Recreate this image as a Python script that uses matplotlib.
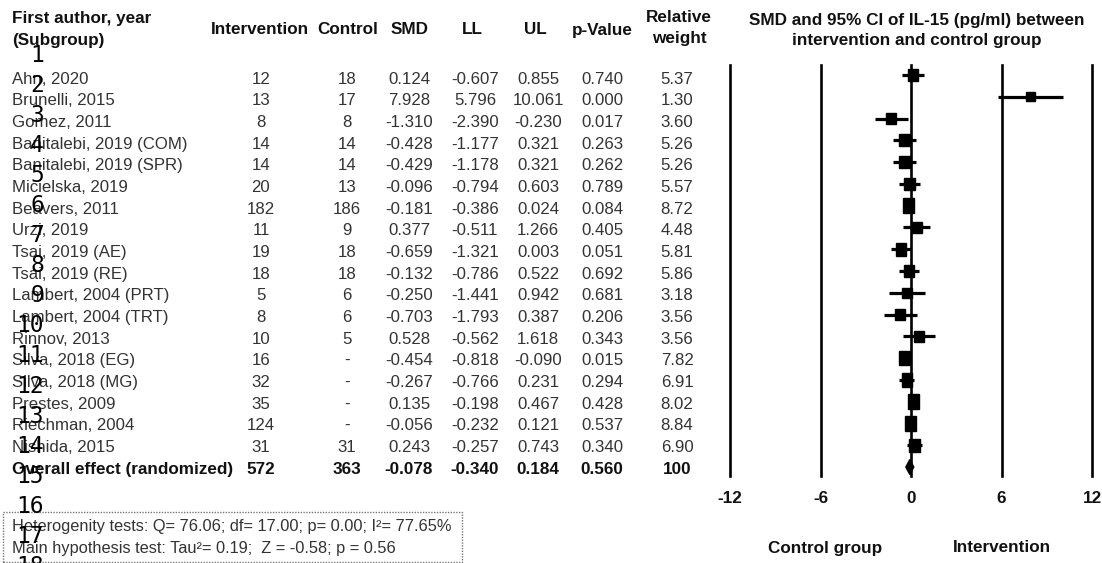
import matplotlib
matplotlib.use("Agg")
import matplotlib.pyplot as plt
from matplotlib.patches import Rectangle, Polygon

# ---------------- data ----------------
studies = ["Ahn, 2020", "Brunelli, 2015", "Gomez, 2011", "Banitalebi, 2019 (COM)",
           "Banitalebi, 2019 (SPR)", "Micielska, 2019", "Beavers, 2011", "Urzi, 2019",
           "Tsai, 2019 (AE)", "Tsai, 2019 (RE)", "Lambert, 2004 (PRT)", "Lambert, 2004 (TRT)",
           "Rinnov, 2013", "Silva, 2018 (EG)", "Silva, 2018 (MG)", "Prestes, 2009",
           "Riechman, 2004", "Nishida, 2015"]
n_intervention = ["12", "13", "8", "14", "14", "20", "182", "11", "19", "18", "5", "8",
                  "10", "16", "32", "35", "124", "31"]
n_control = ["18", "17", "8", "14", "14", "13", "186", "9", "18", "18", "6", "6",
             "5", "-", "-", "-", "-", "31"]
smd = [0.124, 7.928, -1.310, -0.428, -0.429, -0.096, -0.181, 0.377, -0.659, -0.132,
       -0.250, -0.703, 0.528, -0.454, -0.267, 0.135, -0.056, 0.243]
ll = [-0.607, 5.796, -2.390, -1.177, -1.178, -0.794, -0.386, -0.511, -1.321, -0.786,
      -1.441, -1.793, -0.562, -0.818, -0.766, -0.198, -0.232, -0.257]
ul = [0.855, 10.061, -0.230, 0.321, 0.321, 0.603, 0.024, 1.266, 0.003, 0.522,
      0.942, 0.387, 1.618, -0.090, 0.231, 0.467, 0.121, 0.743]
pval = [0.740, 0.000, 0.017, 0.263, 0.262, 0.789, 0.084, 0.405, 0.051, 0.692,
        0.681, 0.206, 0.343, 0.015, 0.294, 0.428, 0.537, 0.340]
weight = [5.37, 1.30, 3.60, 5.26, 5.26, 5.57, 8.72, 4.48, 5.81, 5.86,
          3.18, 3.56, 3.56, 7.82, 6.91, 8.02, 8.84, 6.90]

overall_label = "Overall effect (randomized)"
overall_n_int = "572"
overall_n_ctl = "363"
overall_smd, overall_ll, overall_ul, overall_p, overall_w = -0.078, -0.340, 0.184, 0.560, "100"

xticks = [-12, -6, 0, 6, 12]
het_text = "Heterogenity tests: Q= 76.06; df= 17.00; p= 0.00; I\u00b2= 77.65%"
main_text = "Main hypothesis test: Tau\u00b2= 0.19;  Z = -0.58; p = 0.56"

# ---------------- layout helpers ----------------
W, H = 1102, 563
fig = plt.figure(figsize=(W / 100, H / 100), dpi=100)
plt.rcParams['font.family'] = ['Liberation Sans', 'DejaVu Sans']

def fx(x):
    return x / W

def fy(y):
    return 1 - y / H

FS = 12.1
FSB = 12.35
TXT = '#333333'
BOLD = '#111111'

# headers
fig.text(fx(12), fy(18), "First author, year", fontsize=FSB, fontweight='bold', color=BOLD, va='center', ha='left')
fig.text(fx(12), fy(40), "(Subgroup)", fontsize=FSB, fontweight='bold', color=BOLD, va='center', ha='left')
col_x = [261, 347, 409, 475, 538, 602, 677]
hdr_x = [260, 348, 410, 472, 535, 602, 679]
for hx, lab in zip(hdr_x[:6], ["Intervention", "Control", "SMD", "LL", "UL", "p-Value"]):
    fig.text(fx(hx), fy(30), lab, fontsize=FSB, fontweight='bold', color=BOLD, va='center', ha='center')
fig.text(fx(hdr_x[6]), fy(18), "Relative", fontsize=FSB, fontweight='bold', color=BOLD, va='center', ha='center')
fig.text(fx(hdr_x[6]), fy(39), "weight", fontsize=FSB, fontweight='bold', color=BOLD, va='center', ha='center')
fig.text(fx(917), fy(20), "SMD and 95% CI of IL-15 (pg/ml) between", fontsize=FSB, fontweight='bold',
         color=BOLD, va='center', ha='center')
fig.text(fx(917), fy(40), "intervention and control group", fontsize=FSB, fontweight='bold',
         color=BOLD, va='center', ha='center')

# table rows
row0, dy = 79, 21.67
for i in range(len(studies)):
    y = fy(row0 + i * dy)
    fig.text(fx(12), y, studies[i], fontsize=FS, color=TXT, va='center', ha='left')
    vals = [n_intervention[i], n_control[i], f"{smd[i]:.3f}", f"{ll[i]:.3f}",
            f"{ul[i]:.3f}", f"{pval[i]:.3f}", f"{weight[i]:.2f}"]
    for cx, v in zip(col_x, vals):
        fig.text(fx(cx), y, v, fontsize=FS, color=TXT, va='center', ha='center')
y = fy(row0 + len(studies) * dy)
fig.text(fx(12), y, overall_label, fontsize=FSB, fontweight='bold', color=BOLD, va='center', ha='left')
vals = [overall_n_int, overall_n_ctl, f"{overall_smd:.3f}", f"{overall_ll:.3f}",
        f"{overall_ul:.3f}", f"{overall_p:.3f}", overall_w]
for cx, v in zip(col_x, vals):
    fig.text(fx(cx), y, v, fontsize=FSB, fontweight='bold', color=BOLD, va='center', ha='center')

# heterogeneity box
fig.patches.append(Rectangle((fx(3), fy(562)), fx(462 - 3), (562 - 512) / H, transform=fig.transFigure,
                             fill=False, edgecolor='#777777', linestyle=(0, (1, 1)), linewidth=1.0))
fig.text(fx(12), fy(527), het_text, fontsize=11.8, color=TXT, va='center', ha='left')
fig.text(fx(12), fy(548), main_text, fontsize=11.8, color=TXT, va='center', ha='left')

# ---------------- forest plot ----------------
top_px, bot_px = 65, 476
ax = fig.add_axes([fx(730), fy(bot_px), (1092 - 730) / W, (bot_px - top_px) / H])
mrow0, mdy = 75.0, 21.78
n = len(studies)
ax.set_xlim(-12, 12)
ax.set_ylim((bot_px - mrow0) / mdy, (top_px - mrow0) / mdy)
for s in ax.spines.values():
    s.set_visible(False)
for xv in xticks:
    ax.axvline(xv, color='black', lw=1.9, clip_on=False, zorder=1)

pxx = (1092 - 730) / 24.0
for i in range(n):
    ax.hlines(i, ll[i], ul[i], color='black', lw=2.3, zorder=3)
    wpx = 9 + 0.25 * weight[i]
    hpx = 8 + 0.8 * weight[i]
    ax.add_patch(Rectangle((smd[i] - wpx / 2 / pxx, i - hpx / 2 / mdy), wpx / pxx, hpx / mdy,
                           facecolor='black', edgecolor='black', zorder=4))
hd = 7.5 / mdy
ax.add_patch(Polygon([(overall_ll, n), (overall_smd, n - hd), (overall_ul, n), (overall_smd, n + hd)],
                     closed=True, facecolor='black', edgecolor='black', zorder=4))

ax.set_yticks([])
ax.set_xticks(xticks)
ax.set_xticklabels([str(t) for t in xticks], fontsize=FSB, fontweight='bold', color=BOLD)
ax.tick_params(axis='x', length=0, pad=11)
fig.text(fx(825), fy(548), "Control group", fontsize=FSB, fontweight='bold', color=BOLD, ha='center', va='center')
fig.text(fx(1002), fy(548), "Intervention", fontsize=FSB, fontweight='bold', color=BOLD, ha='center', va='center')

# line-number overlay
for k in range(1, 19):
    fig.text(fx(44), fy(55 + (k - 1) * 30.1), str(k), fontsize=16.5, family='DejaVu Sans Mono',
             fontweight='light', color='black', ha='right', va='center')

fig.savefig("out.png", dpi=100)
